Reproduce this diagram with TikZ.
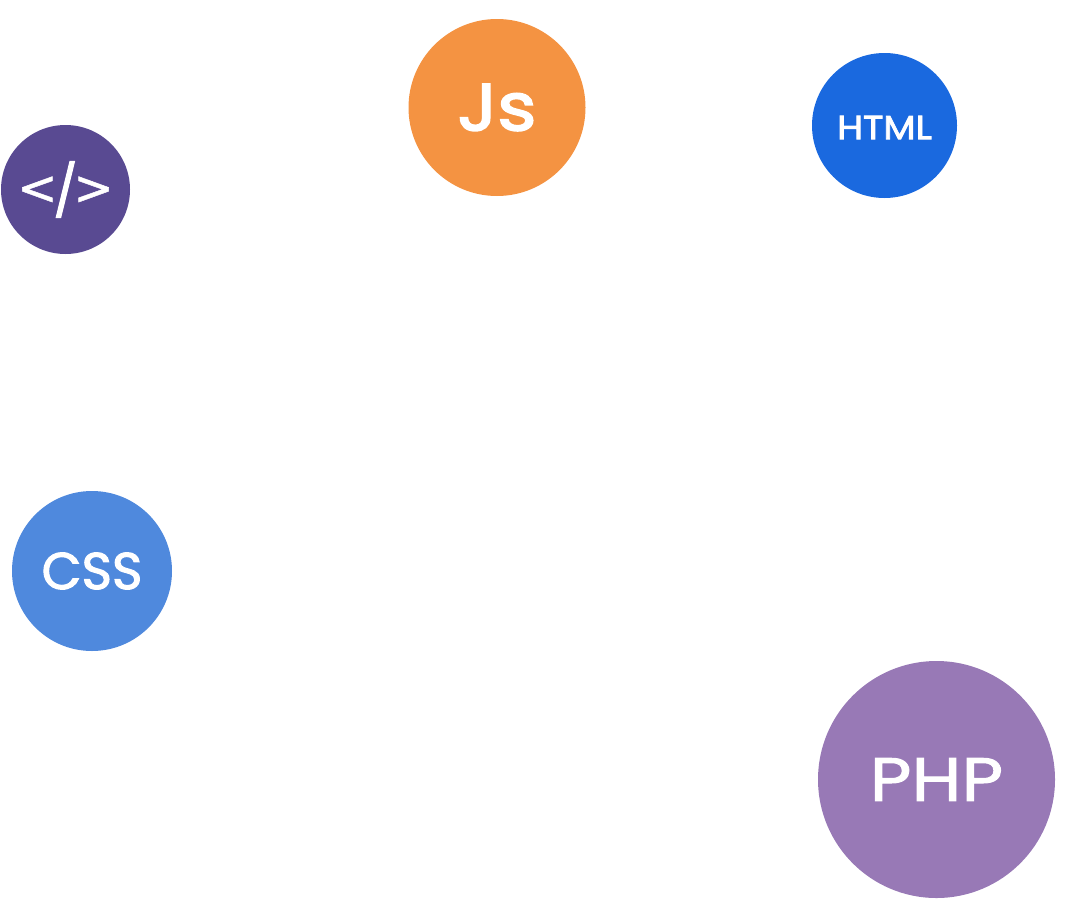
\documentclass[tikz,border=0pt]{standalone}
\usepackage{fontspec}
\setmainfont{Poppins}
\newfontfamily\wideA[FakeStretch=1.18,FakeBold=1.6]{Poppins}
\newfontfamily\wideB[FakeStretch=1.13,FakeBold=2.6]{Poppins}
\newfontfamily\wideC[FakeBold=2.0]{Poppins}
\newfontfamily\angles[FakeBold=1.0]{DejaVu Sans}
\definecolor{cjs}{HTML}{F49342}
\definecolor{chtml}{HTML}{1A69DF}
\definecolor{ccode}{HTML}{594A92}
\definecolor{ccss}{HTML}{4F89DD}
\definecolor{cphp}{HTML}{9879B6}
\tikzset{
  bubble/.style={circle,inner sep=0pt,text=white,anchor=center},
}
\newcommand{\shiftup}[2]{\raisebox{#1}[\height][\depth]{#2}}
\begin{document}
\begin{tikzpicture}[x=0.0264583cm,y=-0.0264583cm]
\useasboundingbox (0,0) rectangle (1073,916);
\node[bubble,fill=cjs,minimum size=177*0.0264583cm,font=\wideB\fontsize{50}{50}\selectfont] (js) at (497,107.5) {Js};
\node[bubble,fill=chtml,minimum size=145*0.0264583cm,font=\wideB\fontsize{25}{25}\selectfont] (html) at (884.5,125.5) {\shiftup{-1.5pt}{HTML}};
\node[bubble,fill=ccode,minimum size=129*0.0264583cm,font=\fontsize{38}{38}\selectfont] (code) at (65.5,189.5) {\raisebox{3.5pt}[0pt][0pt]{\angles\fontsize{36}{36}\selectfont<}\kern-3pt{\wideC/}\kern-3pt\raisebox{3.5pt}[0pt][0pt]{\angles\fontsize{36}{36}\selectfont>}};
\node[bubble,fill=ccss,minimum size=160*0.0264583cm,font=\wideC\fontsize{39}{39}\selectfont] (css) at (92,571) {CSS};
\node[bubble,fill=cphp,minimum size=237*0.0264583cm,font=\wideA\fontsize{46}{46}\selectfont] (php) at (936.5,779.5) {PHP};
\end{tikzpicture}
\end{document}
